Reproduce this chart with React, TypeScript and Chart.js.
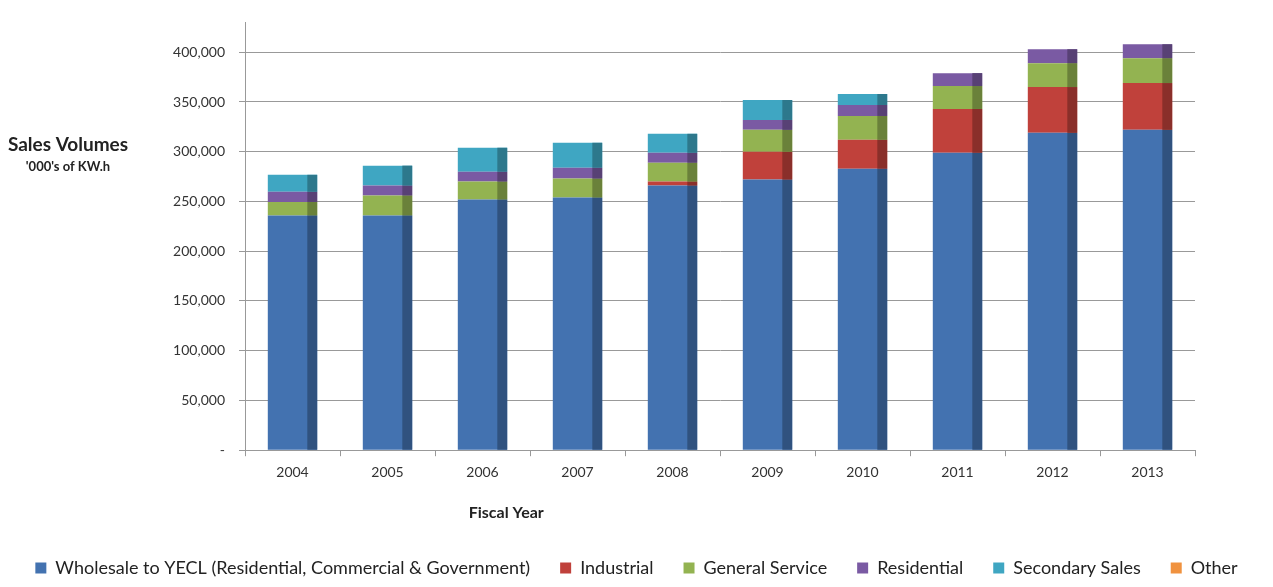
import { useEffect, useRef } from 'react';
import { Chart, registerables } from 'chart.js';

Chart.register(...registerables);

const years = ['2004', '2005', '2006', '2007', '2008', '2009', '2010', '2011', '2012', '2013'];
const wholesale = [236000, 236000, 252000, 254000, 266000, 272000, 283000, 299000, 319000, 322000];
const industrial = [0, 0, 0, 0, 4000, 28000, 29000, 44000, 46000, 47000];
const generalService = [13600, 20000, 18000, 19000, 19000, 22000, 24000, 23000, 24000, 25000];
const residential = [10200, 10000, 10000, 11000, 10000, 10000, 11000, 13000, 14000, 14000];
const secondarySales = [17000, 20000, 24000, 25000, 19000, 20000, 11000, 0, 0, 0];
const other = [0, 0, 0, 0, 0, 0, 0, 0, 0, 0];
const yTicks = [0, 50000, 100000, 150000, 200000, 250000, 300000, 350000, 400000];

const seriesNames = [
  'Wholesale to YECL (Residential, Commercial & Government)',
  'Industrial',
  'General Service',
  'Residential',
  'Secondary Sales',
  'Other',
];
const seriesValues = [wholesale, industrial, generalService, residential, secondarySales, other];
const seriesColors = ['#4372B0', '#C0413B', '#93B351', '#7A5AA3', '#3FA6C2', '#F0923F'];

function darken(hex: string, f: number) {
  const n = parseInt(hex.slice(1), 16);
  const r = Math.round(((n >> 16) & 255) * f);
  const g = Math.round(((n >> 8) & 255) * f);
  const b = Math.round((n & 255) * f);
  return `rgb(${r},${g},${b})`;
}

const FONT = 'Lato, "Open Sans", sans-serif';

const sideShade = {
  id: 'sideShade',
  afterDatasetsDraw(chart: any) {
    const ctx = chart.ctx;
    chart.data.datasets.forEach((ds: any, i: number) => {
      const meta = chart.getDatasetMeta(i);
      meta.data.forEach((el: any) => {
        const top = Math.min(el.y, el.base);
        const h = Math.abs(el.base - el.y);
        if (h < 0.5) return;
        const side = el.width * 0.2;
        ctx.save();
        ctx.fillStyle = darken(ds.backgroundColor, 0.72);
        ctx.fillRect(el.x + el.width / 2 - side, top, side, h);
        ctx.restore();
      });
    });
  },
};

const textPlugin = {
  id: 'textPlugin',
  afterDraw(chart: any) {
    const ctx = chart.ctx;
    const area = chart.chartArea;
    const xs = chart.scales.x;
    ctx.save();
    ctx.fillStyle = '#222';
    ctx.textAlign = 'center';
    ctx.textBaseline = 'middle';
    ctx.font = `bold 19px ${FONT}`;
    ctx.fillText('Sales Volumes', 68, 145);
    ctx.font = `bold 13px ${FONT}`;
    ctx.fillText("'000's of KW.h", 68, 167);
    ctx.font = `bold 16px ${FONT}`;
    ctx.fillText('Fiscal Year', area.left + (area.right - area.left) * 0.275, xs.bottom - 16);
    ctx.restore();
  },
};

export default function App() {
  const ref = useRef<HTMLCanvasElement>(null);
  useEffect(() => {
    if (!ref.current) return;
    const chart = new Chart(ref.current, {
      type: 'bar',
      data: {
        labels: years,
        datasets: seriesNames.map((name, i) => ({
          label: name,
          data: seriesValues[i],
          backgroundColor: seriesColors[i],
          borderWidth: 0,
          barPercentage: 0.52,
          categoryPercentage: 1,
        })),
      },
      options: {
        responsive: true,
        maintainAspectRatio: false,
        animation: false,
        layout: { padding: { left: 0, right: 0, top: 20, bottom: 0 } },
        plugins: {
          legend: {
            position: 'bottom',
            labels: {
              font: { family: FONT, size: 18 },
              color: '#222',
              boxWidth: 11,
              boxHeight: 11,
              padding: 30,
            },
          },
          tooltip: { enabled: false },
        },
        scales: {
          x: {
            stacked: true,
            grid: { display: true, drawOnChartArea: false, drawTicks: true, tickLength: 6, color: '#999', offset: true },
            border: { color: '#999' },
            ticks: { font: { family: FONT, size: 14 }, color: '#333', padding: 8 },
            afterFit: (s: any) => {
              s.height += 40;
            },
          },
          y: {
            stacked: true,
            min: 0,
            max: 430000,
            afterBuildTicks: (s: any) => {
              s.ticks = yTicks.map((v) => ({ value: v }));
            },
            afterFit: (s: any) => {
              s.width = 245;
            },
            ticks: {
              font: { family: FONT, size: 14 },
              color: '#333',
              padding: 14,
              callback: (v: any) => (Number(v) === 0 ? '-' : Number(v).toLocaleString('en-US')),
            },
            grid: { color: '#999', tickLength: 6 },
            border: { color: '#999' },
          },
          yRight: {
            position: 'right',
            display: true,
            grid: { display: false, drawTicks: false },
            border: { display: false },
            ticks: { display: false },
            afterFit: (s: any) => {
              s.width = 78;
            },
          },
        },
      },
      plugins: [sideShade, textPlugin],
    });
    return () => chart.destroy();
  }, []);
  return (
    <div style={{ position: 'fixed', left: 0, top: 0, width: 1273, height: 587, background: '#fff' }}>
      <canvas ref={ref} />
    </div>
  );
}
